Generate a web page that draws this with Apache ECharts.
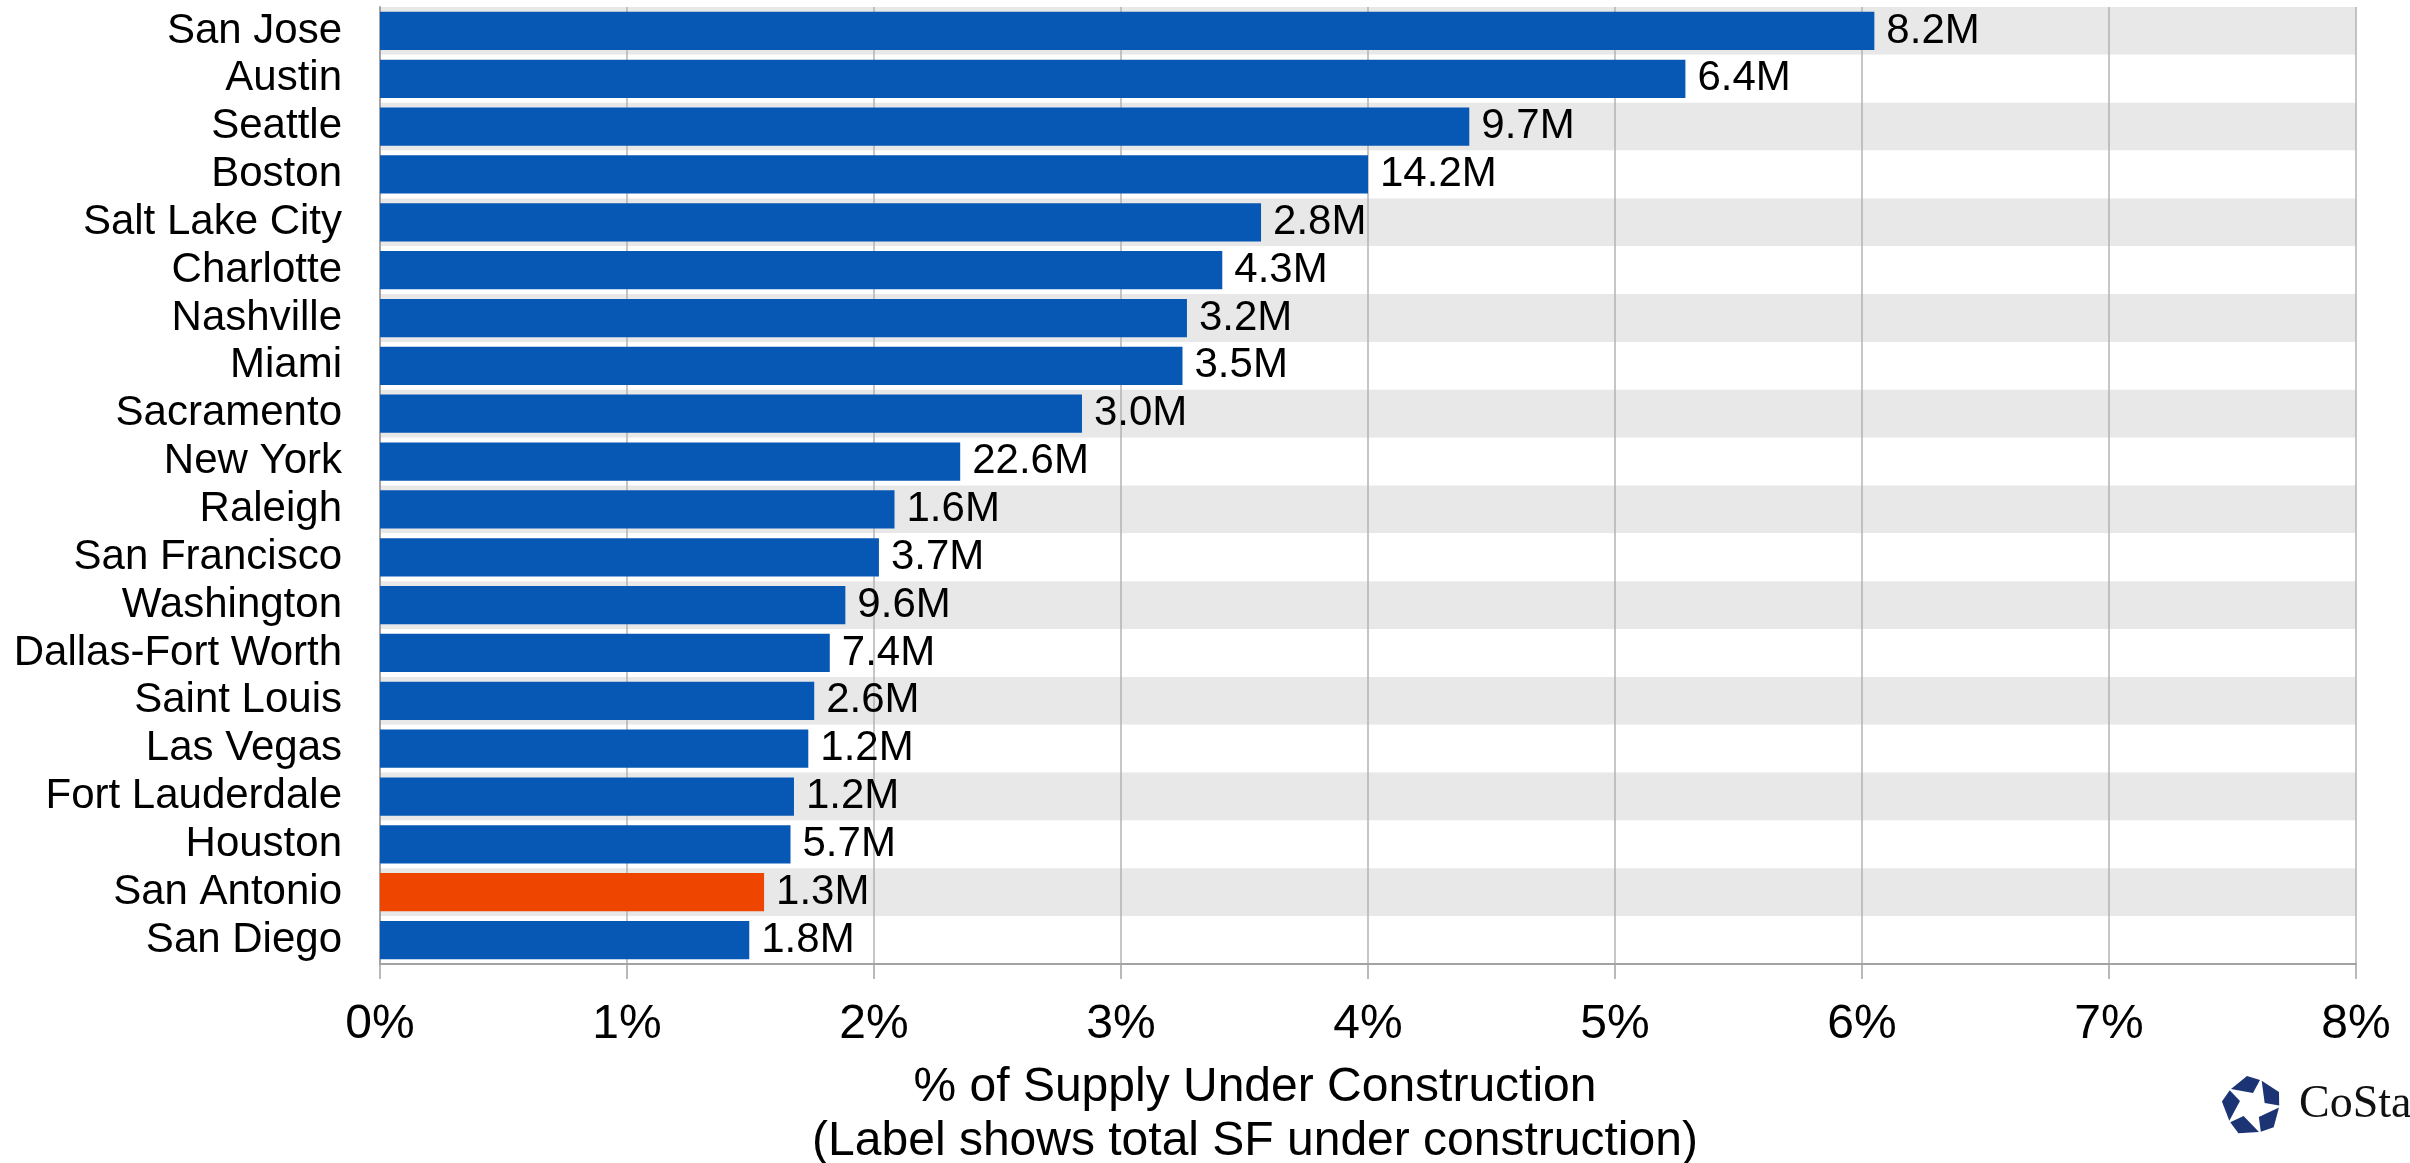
<!DOCTYPE html>
<html>
<head>
<meta charset="utf-8">
<title>Office Supply Under Construction</title>
<script src="https://cdn.jsdelivr.net/npm/echarts@6/dist/echarts.min.js"></script>
<style>
  html, body { margin: 0; padding: 0; background: #ffffff; }
  #chart { width: 2410px; height: 1163px; }
</style>
</head>
<body>
<div id="chart"></div>
<script>
// Markets, top to bottom
const cities = [
  'San Jose', 'Austin', 'Seattle', 'Boston', 'Salt Lake City', 'Charlotte',
  'Nashville', 'Miami', 'Sacramento', 'New York', 'Raleigh', 'San Francisco',
  'Washington', 'Dallas-Fort Worth', 'Saint Louis', 'Las Vegas',
  'Fort Lauderdale', 'Houston', 'San Antonio', 'San Diego'
];

// Share of existing inventory under construction (%)
const pctUnderConstruction = [
  6.05, 5.285, 4.41, 4.0, 3.567, 3.41,
  3.267, 3.249, 2.842, 2.349, 2.083, 2.02,
  1.884, 1.821, 1.758, 1.734,
  1.676, 1.662, 1.555, 1.495
];

// Total square feet under construction, shown at the bar ends
const sfLabels = [
  '8.2M', '6.4M', '9.7M', '14.2M', '2.8M', '4.3M',
  '3.2M', '3.5M', '3.0M', '22.6M', '1.6M', '3.7M',
  '9.6M', '7.4M', '2.6M', '1.2M',
  '1.2M', '5.7M', '1.3M', '1.8M'
];

// Market picked out in orange
const highlightCity = 'San Antonio';

// x-axis range and ticks (%)
const xMin = 0;
const xMax = 8;
const xStep = 1;

const BLUE = '#0757b5';
const ORANGE = '#ee4600';
const AXIS_GREY = '#a3a3a3';
const FONT = '"Liberation Sans", Arial, sans-serif';

const barData = pctUnderConstruction.map((v, i) => ({
  value: v,
  itemStyle: { color: cities[i] === highlightCity ? ORANGE : BLUE },
  label: { formatter: sfLabels[i] }
}));

// CoStar mark: five quadrilaterals arranged as a pinwheel pentagon
const logoCenter = [2252, 1106];
const logoPiece = [[-21, -17], [-5, -30], [8, -26], [1, -13]];
const logoPieces = [];
for (let k = 0; k < 5; k++) {
  const a = k * 72 * Math.PI / 180;
  const c = Math.cos(a), s = Math.sin(a);
  const pts = logoPiece.map(([x, y]) => [
    logoCenter[0] + x * c - y * s,
    logoCenter[1] + x * s + y * c
  ]);
  logoPieces.push({
    type: 'polygon',
    shape: { points: pts },
    style: { fill: '#1c3473' },
    silent: true
  });
}

const chart = echarts.init(document.getElementById('chart'), null, { renderer: 'canvas' });

chart.setOption({
  backgroundColor: '#ffffff',
  animation: false,
  title: {
    text: '% of Supply Under Construction\n(Label shows total SF under construction)',
    left: 1250,
    top: 1056,
    textAlign: 'center',
    textStyle: {
      fontFamily: FONT,
      fontSize: 48,
      fontWeight: 'normal',
      color: '#000000',
      lineHeight: 54
    }
  },
  grid: {
    left: 380,
    right: 54,
    top: 7,
    bottom: 199,
    containLabel: false
  },
  xAxis: {
    type: 'value',
    min: xMin,
    max: xMax,
    interval: xStep,
    axisLine: { show: true, lineStyle: { color: AXIS_GREY, width: 2 } },
    axisTick: { show: true, length: 15, lineStyle: { color: AXIS_GREY, width: 1.5 } },
    splitLine: { show: true, lineStyle: { color: '#b3b3b3', width: 1.5 } },
    axisLabel: {
      margin: 37,
      fontFamily: FONT,
      fontSize: 48,
      color: '#000000',
      formatter: '{value}%'
    }
  },
  yAxis: {
    type: 'category',
    data: cities,
    inverse: true,
    axisLine: { show: true, lineStyle: { color: AXIS_GREY, width: 2 } },
    axisTick: { show: false, interval: 0 },
    splitLine: { show: false, interval: 0 },
    splitArea: {
      show: true,
      interval: 0,
      areaStyle: { color: ['#e8e8e8', '#ffffff'] }
    },
    axisLabel: {
      interval: 0,
      margin: 38,
      fontFamily: FONT,
      fontSize: 42,
      color: '#000000'
    }
  },
  series: [{
    type: 'bar',
    data: barData,
    barCategoryGap: '20%',
    label: {
      show: true,
      position: 'right',
      distance: 12,
      fontFamily: FONT,
      fontSize: 42,
      color: '#000000'
    }
  }],
  graphic: logoPieces.concat([{
    type: 'text',
    left: 2299,
    top: 1082,
    silent: true,
    style: {
      text: 'CoStar',
      font: '46px "Liberation Serif", "Times New Roman", serif',
      fill: '#111111'
    }
  }])
});
</script>
</body>
</html>
